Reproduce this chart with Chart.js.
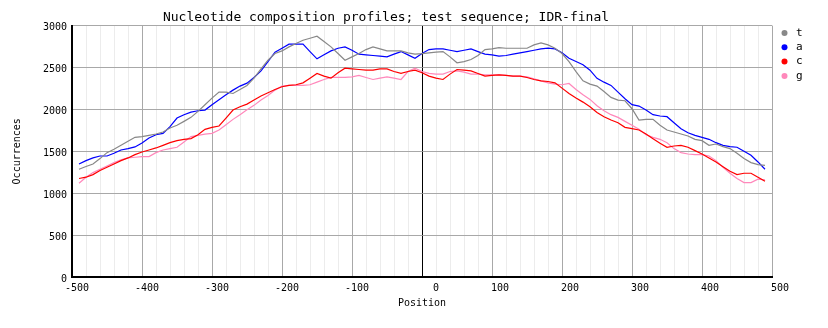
<!DOCTYPE html>
<html lang="en">
<head>
  <meta charset="UTF-8" />
  <title>Nucleotide composition profiles</title>
  <script src="https://cdn.jsdelivr.net/npm/chart.js"></script>
  <style>
    html, body {
      margin: 0;
      background: #fff;
    }
    .wrap {
      width: 828px;
      height: 328px;
    }
  </style>
</head>
<body>
<div class="wrap"><canvas id="chart" width="828" height="328"></canvas></div>
<script>
  const positions = [
    -490, -480, -470, -460, -450, -440, -430, -420, -410, -400,
    -390, -380, -370, -360, -350, -340, -330, -320, -310, -300,
    -290, -280, -270, -260, -250, -240, -230, -220, -210, -200,
    -190, -180, -170, -160, -150, -140, -130, -120, -110, -100,
    -90, -80, -70, -60, -50, -40, -30, -20, -10, 0,
    10, 20, 30, 40, 50, 60, 70, 80, 90, 100,
    110, 120, 130, 140, 150, 160, 170, 180, 190, 200,
    210, 220, 230, 240, 250, 260, 270, 280, 290, 300,
    310, 320, 330, 340, 350, 360, 370, 380, 390, 400,
    410, 420, 430, 440, 450, 460, 470, 480, 490
  ];

  const tValues = [
    1286, 1318, 1349, 1413, 1484, 1524, 1571, 1619, 1667, 1675,
    1690, 1706, 1730, 1778, 1810, 1857, 1905, 1976, 2056, 2135,
    2206, 2206, 2190, 2238, 2286, 2373, 2484, 2587, 2667, 2698,
    2746, 2786, 2825, 2849, 2873, 2810, 2746, 2667, 2587, 2627,
    2667, 2714, 2746, 2722, 2698, 2698, 2698, 2675, 2659, 2665,
    2675, 2683, 2690, 2627, 2556, 2571, 2595, 2643, 2714, 2722,
    2738, 2730, 2730, 2730, 2730, 2770, 2794, 2770, 2730, 2667,
    2571, 2452, 2341, 2302, 2278, 2214, 2143, 2111, 2103, 2008,
    1873, 1881, 1881, 1810, 1754, 1730, 1706, 1683, 1643, 1627,
    1571, 1587, 1556, 1532, 1476, 1413, 1365, 1341, 1333
  ];

  const aValues = [
    1349, 1389, 1421, 1444, 1444, 1476, 1516, 1532, 1552, 1599,
    1659, 1698, 1714, 1794, 1897, 1937, 1968, 1984, 1992, 2056,
    2115, 2175, 2230, 2278, 2313, 2381, 2460, 2571, 2683, 2730,
    2778, 2778, 2778, 2690, 2603, 2651, 2698, 2730, 2746, 2706,
    2659, 2651, 2643, 2635, 2627, 2659, 2690, 2651, 2611, 2667,
    2714, 2722, 2722, 2706, 2690, 2706, 2722, 2690, 2659, 2651,
    2635, 2643, 2659, 2675, 2690, 2706, 2722, 2730, 2722, 2675,
    2611, 2571, 2532, 2468, 2370, 2325, 2286, 2206, 2127, 2056,
    2040, 1992, 1937, 1921, 1913, 1841, 1770, 1722, 1690, 1667,
    1643, 1603, 1571, 1556, 1548, 1500, 1452, 1373, 1286
  ];

  const cValues = [
    1175, 1191, 1222, 1270, 1310, 1349, 1389, 1421, 1460, 1492,
    1516, 1540, 1571, 1603, 1627, 1643, 1651, 1698, 1762, 1786,
    1802, 1897, 1992, 2032, 2063, 2111, 2159, 2198, 2238, 2270,
    2286, 2294, 2317, 2373, 2429, 2397, 2373, 2437, 2492, 2484,
    2476, 2468, 2468, 2484, 2484, 2452, 2429, 2452, 2468, 2437,
    2397, 2373, 2357, 2421, 2476, 2468, 2460, 2429, 2397, 2405,
    2413, 2405, 2397, 2397, 2381, 2357, 2341, 2333, 2317, 2254,
    2190, 2135, 2087, 2032, 1964, 1913, 1873, 1841, 1786, 1770,
    1754, 1706, 1651, 1595, 1548, 1563, 1571, 1548, 1508, 1468,
    1421, 1373, 1317, 1262, 1222, 1238, 1238, 1191, 1143
  ];

  const gValues = [
    1119, 1191, 1246, 1286, 1325, 1365, 1397, 1421, 1429, 1437,
    1437, 1484, 1516, 1532, 1548, 1611, 1675, 1690, 1706, 1714,
    1754, 1817, 1881, 1937, 1996, 2048, 2111, 2167, 2230, 2278,
    2286, 2286, 2286, 2294, 2325, 2357, 2381, 2381, 2381, 2389,
    2405, 2381, 2357, 2373, 2389, 2373, 2357, 2452, 2492, 2452,
    2429, 2421, 2421, 2452, 2460, 2444, 2421, 2421, 2413, 2413,
    2413, 2405, 2397, 2397, 2389, 2365, 2341, 2317, 2302, 2294,
    2310, 2238, 2175, 2119, 2044, 1984, 1937, 1905, 1857, 1810,
    1762, 1698, 1667, 1643, 1603, 1532, 1484, 1468, 1460, 1460,
    1444, 1389, 1310, 1238, 1175, 1127, 1127, 1167, 1159
  ];

  const seriesNames = ['t', 'a', 'c', 'g'];
  const seriesColors = ['#888888', '#0000ff', '#ff0000', '#ff88bb'];
  const seriesValues = [tValues, aValues, cValues, gValues];

  const MONO = '"DejaVu Sans Mono", "Liberation Mono", monospace';

  // small legend in the right margin
  const sideLegend = {
    id: 'sideLegend',
    afterDraw(chart) {
      const ctx = chart.ctx;
      ctx.save();
      ctx.font = '11px ' + MONO;
      ctx.textBaseline = 'middle';
      ctx.textAlign = 'left';
      chart.data.datasets.forEach((ds, i) => {
        const y = 33 + i * 14.3;
        ctx.fillStyle = ds.borderColor;
        ctx.beginPath();
        ctx.arc(784.5, y, 3, 0, Math.PI * 2);
        ctx.fill();
        ctx.fillStyle = '#000';
        ctx.fillText(ds.label, 796, y);
      });
      ctx.restore();
    }
  };

  const whiteBg = {
    id: 'whiteBg',
    beforeDraw(chart) {
      const ctx = chart.ctx;
      ctx.save();
      ctx.fillStyle = '#fff';
      ctx.fillRect(0, 0, chart.width, chart.height);
      ctx.restore();
    }
  };

  new Chart(document.getElementById('chart'), {
    type: 'line',
    data: {
      datasets: seriesNames.map((name, i) => ({
        label: name,
        data: positions.map((p, j) => ({ x: p, y: seriesValues[i][j] })),
        borderColor: seriesColors[i],
        backgroundColor: seriesColors[i],
        borderWidth: 1.2,
        pointRadius: 0,
        tension: 0,
        fill: false
      }))
    },
    options: {
      responsive: false,
      animation: false,
      devicePixelRatio: 1,
      layout: { padding: { top: 0, right: 56, bottom: 0, left: 0 } },
      plugins: {
        legend: { display: false },
        tooltip: { enabled: false },
        title: {
          display: true,
          text: 'Nucleotide composition profiles; test sequence; IDR-final',
          color: '#000',
          font: { family: MONO, size: 13, weight: 'normal', lineHeight: 1.2 },
          padding: { top: 10, bottom: 0 }
        }
      },
      scales: {
        x: {
          type: 'linear',
          min: -500,
          max: 500,
          afterFit: s => { s.height = 51; },
          border: { color: '#000', width: 2 },
          grid: {
            drawTicks: false,
            lineWidth: 1,
            color: c => {
              const v = c.tick ? c.tick.value : 0;
              if (v === 0) return '#000';
              return v % 100 === 0 ? '#a8a8a8' : '#ececec';
            }
          },
          ticks: {
            stepSize: 20,
            autoSkip: false,
            maxRotation: 0,
            align: 'end',
            labelOffset: 17,
            padding: 5,
            color: '#000',
            font: { family: MONO, size: 10 },
            callback: v => (v % 100 === 0 ? String(v) : '')
          },
          title: {
            display: true,
            text: 'Position',
            color: '#000',
            font: { family: MONO, size: 10 },
            padding: { top: 0, bottom: 19 }
          }
        },
        y: {
          min: 0,
          max: 3000,
          afterFit: s => { s.width = 72; },
          border: { color: '#000', width: 2 },
          grid: {
            drawTicks: false,
            lineWidth: 1,
            color: '#a8a8a8'
          },
          ticks: {
            stepSize: 500,
            padding: 5,
            labelOffset: 2,
            color: '#000',
            font: { family: MONO, size: 10 },
            callback: v => String(v)
          },
          title: {
            display: true,
            text: 'Occurrences',
            color: '#000',
            font: { family: MONO, size: 10 },
            padding: { top: 11, bottom: 0 }
          }
        }
      }
    },
    plugins: [whiteBg, sideLegend]
  });
</script>
</body>
</html>
